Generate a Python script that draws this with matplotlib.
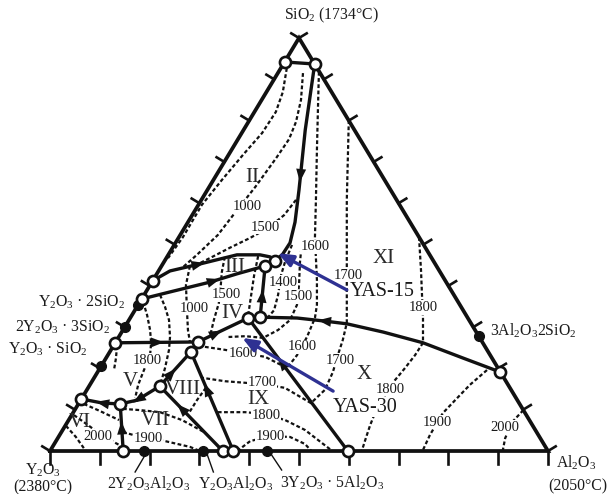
import numpy as np
import matplotlib
matplotlib.use("Agg")
import matplotlib.pyplot as plt
from matplotlib.patches import Polygon

plt.rcParams["font.family"] = "Liberation Serif"
plt.rcParams["mathtext.fontset"] = "custom"
plt.rcParams["mathtext.rm"] = "Liberation Serif"
plt.rcParams["mathtext.default"] = "rm"

# Y2O3-Al2O3-SiO2 system, compositions in wt% as (Al2O3, SiO2); Y2O3 is the rest

# invariant points (open circles)
inv_al = [0, 6.3, 22.2, 20.8, 0, 0, 26.0, 23.7, 16.5, 16.3, 14.2, 8.4, 0, 0, 80.9, 14.7, 34.7, 36.8, 59.8]
inv_si = [94.2, 93.7, 46.0, 44.8, 41.2, 36.8, 32.4, 32.2, 26.4, 24.0, 15.7, 11.4, 26.2, 12.6, 19.1, 0, 0, 0, 0]

# compounds (filled dots)
cmp_al = [0, 0, 0, 72.2, 18.9, 30.8, 43.5]
cmp_si = [35.4, 30.0, 20.6, 27.8, 0, 0, 0]

# boundary curves between primary fields
b_top = [(0, 94.2), (6.3, 93.7)]
b_silica = [(6.3, 93.7), (12.4, 77.7), (18.4, 63.2), (21.5, 55.4), (23.0, 50.4), (22.9, 47.7), (22.2, 46.0)]
b_iii_upper = [(0, 41.2), (2.3, 43.6), (7.5, 45.3), (13.8, 47.5), (18.4, 47.5), (20.7, 47.0), (22.2, 46.0)]
b_iii_lower = [(0, 36.8), (4.8, 38.5), (11.7, 40.9), (16.1, 42.9), (20.8, 44.8)]
b_iii_iv = [(20.8, 44.8), (26.0, 32.4)]
b_mullite = [(26.0, 32.4), (33.5, 32.2), (39.1, 31.5), (44.2, 30.8), (52.5, 28.8), (61.8, 26.2), (71.7, 22.5), (80.9, 19.1)]
b_ix_x = [(23.7, 32.2), (59.8, 0)]
b_iv_ix = [(23.7, 32.2), (16.5, 26.4)]
b_iv_tie = [(23.7, 32.2), (26.0, 32.4)]
b_short = [(16.5, 26.4), (16.3, 24.0)]
b_viii_ix = [(16.3, 24.0), (36.8, 0)]
b_v_viii = [(16.3, 24.0), (14.2, 15.7)]
b_iv_v = [(0, 26.2), (16.5, 26.4)]
b_v_vii = [(14.2, 15.7), (11.3, 12.3), (8.4, 11.4)]
b_v_vi = [(8.4, 11.4), (4.8, 11.6), (0, 12.6)]
b_vi_vii = [(8.4, 11.4), (14.7, 0)]
b_vii_viii = [(14.2, 15.7), (34.7, 0)]

boundaries = [b_top, b_silica, b_iii_upper, b_iii_lower, b_iii_iv, b_mullite, b_ix_x,
              b_iv_ix, b_iv_tie, b_short, b_viii_ix, b_v_viii, b_iv_v, b_v_vii,
              b_v_vi, b_vi_vii, b_vii_viii]

# falling-temperature arrows: (curve, fraction along it, +1 forward / -1 backward)
arrows = [(b_silica, 0.55, 1), (b_iii_upper, 0.38, 1), (b_iii_lower, 0.58, 1),
          (b_iii_iv, 0.59, -1), (b_mullite, 0.26, -1), (b_ix_x, 0.34, -1),
          (b_iv_ix, 0.64, -1), (b_viii_ix, 0.38, -1), (b_v_viii, 0.63, -1),
          (b_iv_v, 0.51, 1), (b_v_vii, 0.57, 1), (b_v_vi, 0.45, 1),
          (b_vi_vii, 0.51, -1), (b_vii_viii, 0.35, -1)]

# liquidus isotherms
isotherms = [
    [(1.2, 92.7), (3.3, 86.9), (4.3, 82.1), (4.1, 77.0), (2.9, 71.7), (1.7, 65.6), (0.7, 59.6), (0.8, 51.8), (0.35, 46.7)],
    [(5.05, 91.5), (7.9, 85.0), (9.55, 79.7), (10.25, 75.5), (9.95, 70.9), (9.25, 63.9), (8.4, 58.4), (7.55, 52.3), (5.75, 47.5), (4.35, 44.3)],
    [(19.0, 60.8), (18.45, 57.1), (16.8, 54.0), (14.4, 51.6), (11.5, 49.2), (8.75, 46.7), (7.35, 45.5)],
    [(8.1, 91.8), (12.5, 82.6), (17.15, 72.9), (23.0, 60.8), (27.4, 51.6), (30.05, 46.7), (32.9, 41.4), (35.9, 35.4),
     (37.1, 32.2), (37.8, 27.6), (38.0, 23.2), (37.55, 20.1), (31.8, 22.8), (26.95, 23.7), (22.85, 24.5), (17.4, 25.4)],
    [(19.95, 80.1), (24.55, 70.5), (29.2, 60.8), (34.05, 51.1), (37.1, 45.0), (39.75, 39.7), (41.9, 35.4), (44.1, 31.0),
     (45.35, 26.9), (46.2, 23.2), (47.25, 19.1), (47.8, 14.8), (46.6, 11.6), (39.5, 15.3), (34.5, 16.2), (26.65, 16.9), (21.85, 17.7)],
    [(48.2, 51.8), (52.6, 43.8), (55.8, 37.8), (58.8, 32.2), (61.8, 26.2), (61.7, 23.2), (61.25, 20.1), (60.7, 17.2),
     (60.5, 13.6), (60.55, 9.9), (61.15, 6.3), (61.8, 3.4), (62.6, 0)],
    [(29.0, 9.4), (34.5, 9.4), (38.3, 9.0), (43.45, 7.5), (48.65, 5.1), (56.7, 0)],
    [(77.95, 19.6), (76.3, 16.0), (75.2, 12.3), (74.3, 9.2), (74.35, 3.9), (74.8, 0)],
    [(90.1, 9.9), (89.3, 7.0), (89.85, 3.1), (90.9, 0)],
    [(37.6, 0), (39.0, 2.4), (42.4, 3.6), (46.5, 3.4), (50.35, 1.7), (52.5, 0)],
    [(5.7, 44.8), (7.2, 40.2), (10.45, 34.1), (13.05, 29.3), (14.9, 26.4)],
    [(11.6, 47.0), (12.85, 43.3), (14.2, 40.2), (16.0, 35.8), (17.05, 31.7), (18.3, 27.6)],
    [(18.2, 47.2), (19.7, 42.6), (21.5, 37.8), (23.35, 32.9)],
    [(23.65, 49.9), (24.3, 45.8), (25.1, 42.6), (26.9, 37.8), (27.95, 34.1), (27.6, 32.4)],
    [(25.3, 50.6), (27.3, 45.8), (29.9, 40.2), (31.9, 35.4), (32.35, 31.7), (31.15, 29.3), (29.1, 27.4), (25.3, 27.8), (21.9, 27.6)],
    [(0.65, 36.1), (3.05, 32.9), (5.45, 29.3), (7.2, 26.2), (8.5, 23.2), (9.15, 19.1), (9.7, 16.0), (10.7, 12.8)],
    [(3.2, 37.8), (5.65, 34.9), (8.05, 31.7), (10.3, 27.6), (11.65, 24.5), (13.05, 20.1), (13.95, 16.7)],
    [(0.75, 25.4), (2.0, 22.5), (3.05, 19.6)],
    [(23.65, 15.3), (23.35, 12.3), (23.3, 9.2)],
    [(9.55, 10.2), (13.15, 9.9), (17.4, 9.4), (22.75, 7.5), (28.6, 4.6)],
    [(12.35, 4.6), (16.4, 3.4), (21.9, 2.4), (27.6, 1.0), (30.1, 0)],
    [(1.1, 11.4), (5.15, 9.7), (10.1, 7.5)],
    [(0.45, 8.7), (4.45, 6.3), (8.8, 3.6), (13.1, 1.5)],
    [(0.15, 6.1), (3.5, 3.4), (7.2, 0)],
]

iso_text = ["1000", "1500", "1600", "1700", "1400", "1500", "1500", "1800", "1000", "1600", "1600",
            "1700", "1800", "1700", "1800", "1800", "1900", "2000", "2000", "1900", "1900"]
iso_at = [(10.0, 59.1), (16.1, 54.2), (28.5, 49.4), (38.5, 42.6), (26.35, 40.9), (16.6, 37.8),
          (31.15, 37.3), (57.6, 34.7), (11.6, 34.6), (26.9, 23.7), (38.0, 25.2), (47.2, 22.0),
          (8.5, 22.0), (34.35, 16.5), (60.8, 15.0), (39.15, 8.5), (74.2, 7.0), (88.5, 5.8),
          (7.8, 3.6), (18.15, 3.1), (42.5, 3.4)]

field_text = ["II", "III", "IV", "V", "VI", "VII", "VIII", "IX", "X", "XI"]
field_at = [(7.45, 66.3), (14.85, 44.55), (19.85, 33.4), (7.75, 16.95), (2.6, 6.8),
            (17.35, 7.5), (19.3, 14.8), (35.6, 12.4), (53.75, 18.6), (43.55, 46.7)]

# sample compositions and where they point
yas_names = ["YAS-15", "YAS-30"]
yas_from = [(40.1, 39.0), (49.6, 14.5)]
yas_to = [(21.8, 47.9), (24.9, 27.4)]
yas_label_at = [(47.45, 38.5), (57.95, 10.65)]


def tern(points):
    p = np.asarray(points, dtype=float)
    return p[:, 0] + p[:, 1] / 2, p[:, 1]


fig = plt.figure(figsize=(6.08, 4.94), dpi=100)
ax = fig.add_axes([0, 0, 1, 1])
ax.set_xlim(-10.04, 112.05)
ax.set_ylim(-10.41, 109.2)
ax.axis("off")

ink = "#111111"
to_disp = ax.transData.transform
to_data = ax.transData.inverted().transform


def shifted(pt, dx, dy):
    x, y = tern([pt])
    d = to_disp([[x[0], y[0]]])[0] + [dx, dy]
    return to_data([d])[0]


# triangle with 10 % ticks pointing outwards
corners = np.array(tern([(0, 0), (100, 0), (0, 100), (0, 0)])).T
ax.plot(corners[:, 0], corners[:, 1], color=ink, lw=2.7, solid_joinstyle="miter", zorder=3)
dc = to_disp(corners[:3])
left_dir = (dc[2] - dc[0]) / np.hypot(*(dc[2] - dc[0]))
right_dir = (dc[2] - dc[1]) / np.hypot(*(dc[2] - dc[1]))
left_n = np.array([-left_dir[1], left_dir[0]])
right_n = np.array([right_dir[1], -right_dir[0]])
for k in range(11):
    v = 10 * k
    for comp, nrm, ln in [((v, 0), np.array([0, -1]), 13), ((0, v), left_n, 9), ((100 - v, v), right_n, 9)]:
        x, y = tern([comp])
        p0 = to_disp([[x[0], y[0]]])[0]
        seg = to_data([p0, p0 + nrm * ln])
        ax.plot(seg[:, 0], seg[:, 1], color=ink, lw=1.9, zorder=3)

for line in isotherms:
    x, y = tern(line)
    ax.plot(x, y, color=ink, lw=1.6, dashes=(1.7, 1.1), zorder=1)

for line in boundaries:
    x, y = tern(line)
    ax.plot(x, y, color=ink, lw=2.4, solid_capstyle="round", zorder=2)


def arrowhead(curve, t, sign, length=13, half=5):
    x, y = tern(curve)
    d = to_disp(np.column_stack([x, y]))
    seg = np.diff(d, axis=0)
    seglen = np.hypot(seg[:, 0], seg[:, 1])
    cum = np.concatenate([[0], np.cumsum(seglen)])
    s = t * cum[-1]
    i = min(np.searchsorted(cum, s, side="right") - 1, len(seg) - 1)
    u = seg[i] / seglen[i]
    p = d[i] + u * (s - cum[i])
    u = u * sign
    n = np.array([-u[1], u[0]])
    tri = np.array([p + u * length / 2, p - u * length / 2 + n * half, p - u * length / 2 - n * half])
    ax.add_patch(Polygon(to_data(tri), closed=True, color=ink, lw=0, zorder=4))


for curve, t, sign in arrows:
    arrowhead(curve, t, sign)

x, y = tern(list(zip(cmp_al, cmp_si)))
ax.plot(x, y, "o", ms=7, color=ink, zorder=5)
x, y = tern(list(zip(inv_al, inv_si)))
ax.plot(x, y, "o", ms=8, mfc="white", mec=ink, mew=1.9, zorder=5)

for txt, at in zip(iso_text, iso_at):
    x, y = tern([at])
    ax.text(x[0], y[0], txt, fontsize=10.5, ha="center", va="center", color="#1a1a1a", zorder=6,
            bbox=dict(boxstyle="square,pad=0.05", fc="white", ec="none"))

for txt, at in zip(field_text, field_at):
    x, y = tern([at])
    ax.text(x[0], y[0], txt, fontsize=15, ha="center", va="center", color="#2a2a2a", zorder=6)

for name, a, b, at in zip(yas_names, yas_from, yas_to, yas_label_at):
    xa, ya = tern([a])
    xb, yb = tern([b])
    ax.annotate("", xy=(xb[0], yb[0]), xytext=(xa[0], ya[0]), zorder=7,
                arrowprops=dict(arrowstyle="-|>,head_length=0.45,head_width=0.18", mutation_scale=20,
                                color="#2e3192", lw=2.4, shrinkA=0, shrinkB=0))
    x, y = tern([at])
    ax.text(x[0], y[0], name, fontsize=14.5, ha="center", va="center", color="#1a1a1a", zorder=5.5,
            bbox=dict(boxstyle="square,pad=0.02", fc="white", ec="none"))

# end members and compounds around the triangle
outer = [
    ((0, 100), 32, 23, "SiO$_2$ (1734°C)", "center"),
    ((0, 0), -7, -19, "Y$_2$O$_3$", "center"),
    ((0, 0), -7, -36, "(2380°C)", "center"),
    ((100, 0), 28, -12, "Al$_2$O$_3$", "center"),
    ((100, 0), 30, -35, "(2050°C)", "center"),
    ((72.2, 27.8), 11, 5, "3Al$_2$O$_3$2SiO$_2$", "left"),
    ((0, 36.8), -16, -3, "Y$_2$O$_3$ · 2SiO$_2$", "right"),
    ((0, 30.0), -14, 0, "2Y$_2$O$_3$ · 3SiO$_2$", "right"),
    ((0, 26.2), -28, -7, "Y$_2$O$_3$ · SiO$_2$", "right"),
    ((18.9, 0), 4, -33, "2Y$_2$O$_3$Al$_2$O$_3$", "center"),
    ((30.8, 0), 32, -33, "Y$_2$O$_3$Al$_2$O$_3$", "center"),
    ((43.5, 0), 65, -32, "3Y$_2$O$_3$ · 5Al$_2$O$_3$", "center"),
]
for pt, dx, dy, txt, ha in outer:
    px, py = shifted(pt, dx, dy)
    ax.text(px, py, txt, fontsize=11.3, ha=ha, va="center", color="#1a1a1a", zorder=6)

# leader lines from the base compounds to their names
leaders = [((18.9, 0), (1, -4), (-9, -21)), ((30.8, 0), (4, -4), (10, -21)), ((43.5, 0), (5, -4), (15, -19))]
for pt, s0, s1 in leaders:
    p0 = shifted(pt, *s0)
    p1 = shifted(pt, *s1)
    ax.plot([p0[0], p1[0]], [p0[1], p1[1]], color=ink, lw=1.0, zorder=3)

fig.savefig("out.png", dpi=100, facecolor="white")
